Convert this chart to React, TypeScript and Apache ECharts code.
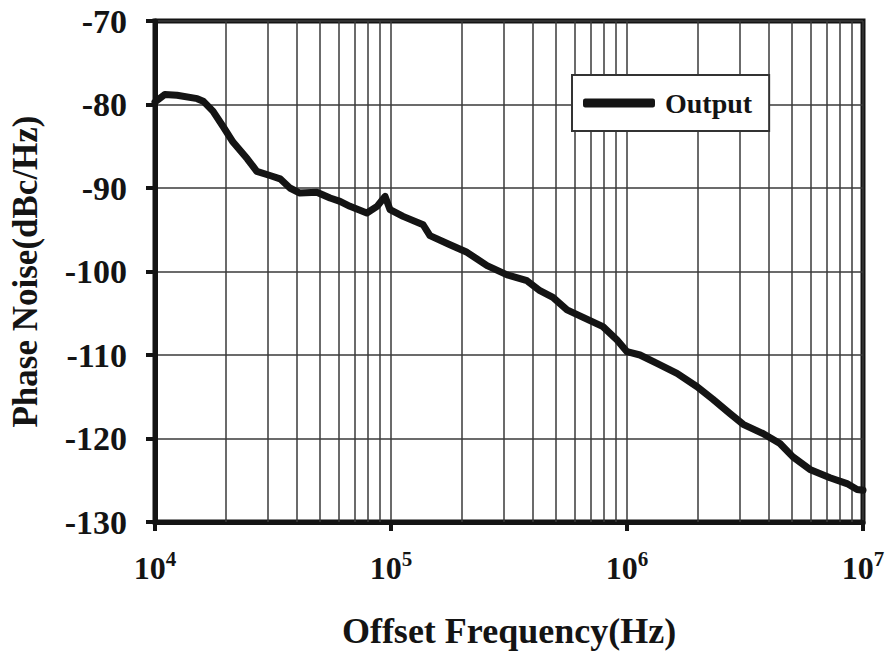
import React, { useEffect, useRef } from "react";
import * as echarts from "echarts";

// Offset frequency (Hz) and phase noise (dBc/Hz)
const FREQS = [
  10000, 11000, 12400, 15100, 16000, 17600, 19400, 21400, 24600, 27000,
  30700, 33900, 37300, 41100, 48500, 55200, 60800, 67000, 79000, 87300,
  94400, 99100, 112500, 136800, 146200, 177800, 209900, 255300, 310500, 376700,
  427600, 485300, 557200, 651600, 790700, 907800, 1000000, 1135000, 1340000, 1629000,
  1982000, 2312000, 2729000, 3105000, 3767000, 4446000, 5047000, 5957000, 7244000, 8551000,
  9441000, 10000000,
];
const NOISE = [
  -79.7, -78.8, -78.9, -79.3, -79.6, -80.8, -82.6, -84.5, -86.5, -88.0,
  -88.5, -88.9, -90.0, -90.6, -90.5, -91.2, -91.6, -92.2, -93.0, -92.2,
  -91.0, -92.6, -93.4, -94.4, -95.7, -96.8, -97.7, -99.3, -100.4, -101.1,
  -102.3, -103.1, -104.6, -105.5, -106.6, -108.2, -109.6, -110.0, -111.0, -112.2,
  -113.8, -115.3, -117.0, -118.3, -119.4, -120.6, -122.2, -123.7, -124.7, -125.4,
  -126.1, -126.2,
];
const SERIES_NAME = "Output";
const X_TITLE = "Offset Frequency(Hz)";
const Y_TITLE = "Phase Noise(dBc/Hz)";
const X_MIN = 10000;
const X_MAX = 10000000;
const Y_MIN = -130;
const Y_MAX = -70;
const Y_STEP = 10;
const DECADES = [4, 5, 6];
const MINOR_STEPS = [2, 3, 4, 5, 6, 7, 8, 9];

const FONT = "'Liberation Serif', 'Times New Roman', serif";
const INK = "#141414";
const GRID_INK = "#3a3a3a";

export default function App() {
  const ref = useRef<HTMLDivElement>(null);

  useEffect(() => {
    if (!ref.current) return;
    const chart = echarts.init(ref.current, undefined, { renderer: "svg" });
    const minorLines: any[] = [];
    DECADES.forEach((d) => {
      MINOR_STEPS.forEach((k) => minorLines.push({ xAxis: k * Math.pow(10, d) }));
    });
    const data = FREQS.map((f, i) => [f, NOISE[i]]);

    chart.setOption({
      animation: false,
      backgroundColor: "#fff",
      textStyle: { fontFamily: FONT },
      grid: {
        left: 155,
        top: 21,
        right: 28,
        bottom: 127,
        show: true,
        borderColor: INK,
        borderWidth: 5,
        backgroundColor: "transparent",
      },
      legend: {
        data: [SERIES_NAME],
        left: 572,
        top: 75,
        orient: "horizontal",
        backgroundColor: "#fff",
        borderColor: "#333",
        borderWidth: 2,
        borderRadius: 0,
        padding: [14, 17, 14, 11],
        itemWidth: 72,
        itemHeight: 9,
        icon: "roundRect",
        itemStyle: { color: INK },
        textStyle: {
          fontFamily: FONT,
          fontWeight: "bold",
          fontSize: 28,
          color: INK,
          padding: [0, 0, 0, 5],
        },
        z: 10,
      },
      xAxis: {
        type: "log",
        logBase: 10,
        min: X_MIN,
        max: X_MAX,
        splitNumber: 3,
        name: X_TITLE,
        nameLocation: "middle",
        nameGap: 91,
        nameTextStyle: {
          fontFamily: FONT,
          fontWeight: "bold",
          fontSize: 36,
          color: INK,
        },
        axisLine: { show: true, lineStyle: { color: INK, width: 5 } },
        axisTick: { show: true, inside: false, length: 9, lineStyle: { color: INK, width: 4 } },
        axisLabel: {
          margin: 26,
          formatter: (v: number) => `{b|10}{sup|${Math.round(Math.log10(v))}}`,
          rich: {
            b: {
              fontFamily: FONT,
              fontWeight: "bold",
              fontSize: 32,
              lineHeight: 40,
              color: INK,
            },
            sup: {
              fontFamily: FONT,
              fontWeight: "bold",
              fontSize: 21,
              lineHeight: 29,
              verticalAlign: "top",
              color: INK,
            },
          },
        },
        splitLine: { show: true, lineStyle: { color: GRID_INK, width: 1.5 } },
      },
      yAxis: {
        type: "value",
        min: Y_MIN,
        max: Y_MAX,
        interval: Y_STEP,
        name: Y_TITLE,
        nameLocation: "middle",
        nameGap: 112,
        nameTextStyle: {
          fontFamily: FONT,
          fontWeight: "bold",
          fontSize: 35,
          color: INK,
        },
        axisLine: { show: true, lineStyle: { color: INK, width: 5 } },
        axisTick: { show: true, inside: false, length: 9, lineStyle: { color: INK, width: 4 } },
        axisLabel: {
          margin: 28,
          fontFamily: FONT,
          fontWeight: "bold",
          fontSize: 34,
          color: INK,
        },
        splitLine: { show: true, lineStyle: { color: GRID_INK, width: 1.5 } },
      },
      series: [
        {
          name: "minor-grid",
          type: "line",
          data: [[X_MIN, Y_MIN]],
          showSymbol: false,
          symbol: "none",
          lineStyle: { opacity: 0 },
          silent: true,
          z: 1,
          markLine: {
            silent: true,
            symbol: ["none", "none"],
            label: { show: false },
            lineStyle: { type: "solid", color: GRID_INK, width: 1.5 },
            data: minorLines,
            z: 1,
          },
        },
        {
          name: SERIES_NAME,
          type: "line",
          data,
          showSymbol: false,
          symbol: "none",
          smooth: false,
          lineStyle: { color: INK, width: 7, cap: "round", join: "round" },
          itemStyle: { color: INK },
          z: 5,
        },
      ],
    });
    return () => chart.dispose();
  }, []);

  return (
    <div
      ref={ref}
      style={{ position: "fixed", left: 0, top: 0, width: 891, height: 654 }}
    />
  );
}
